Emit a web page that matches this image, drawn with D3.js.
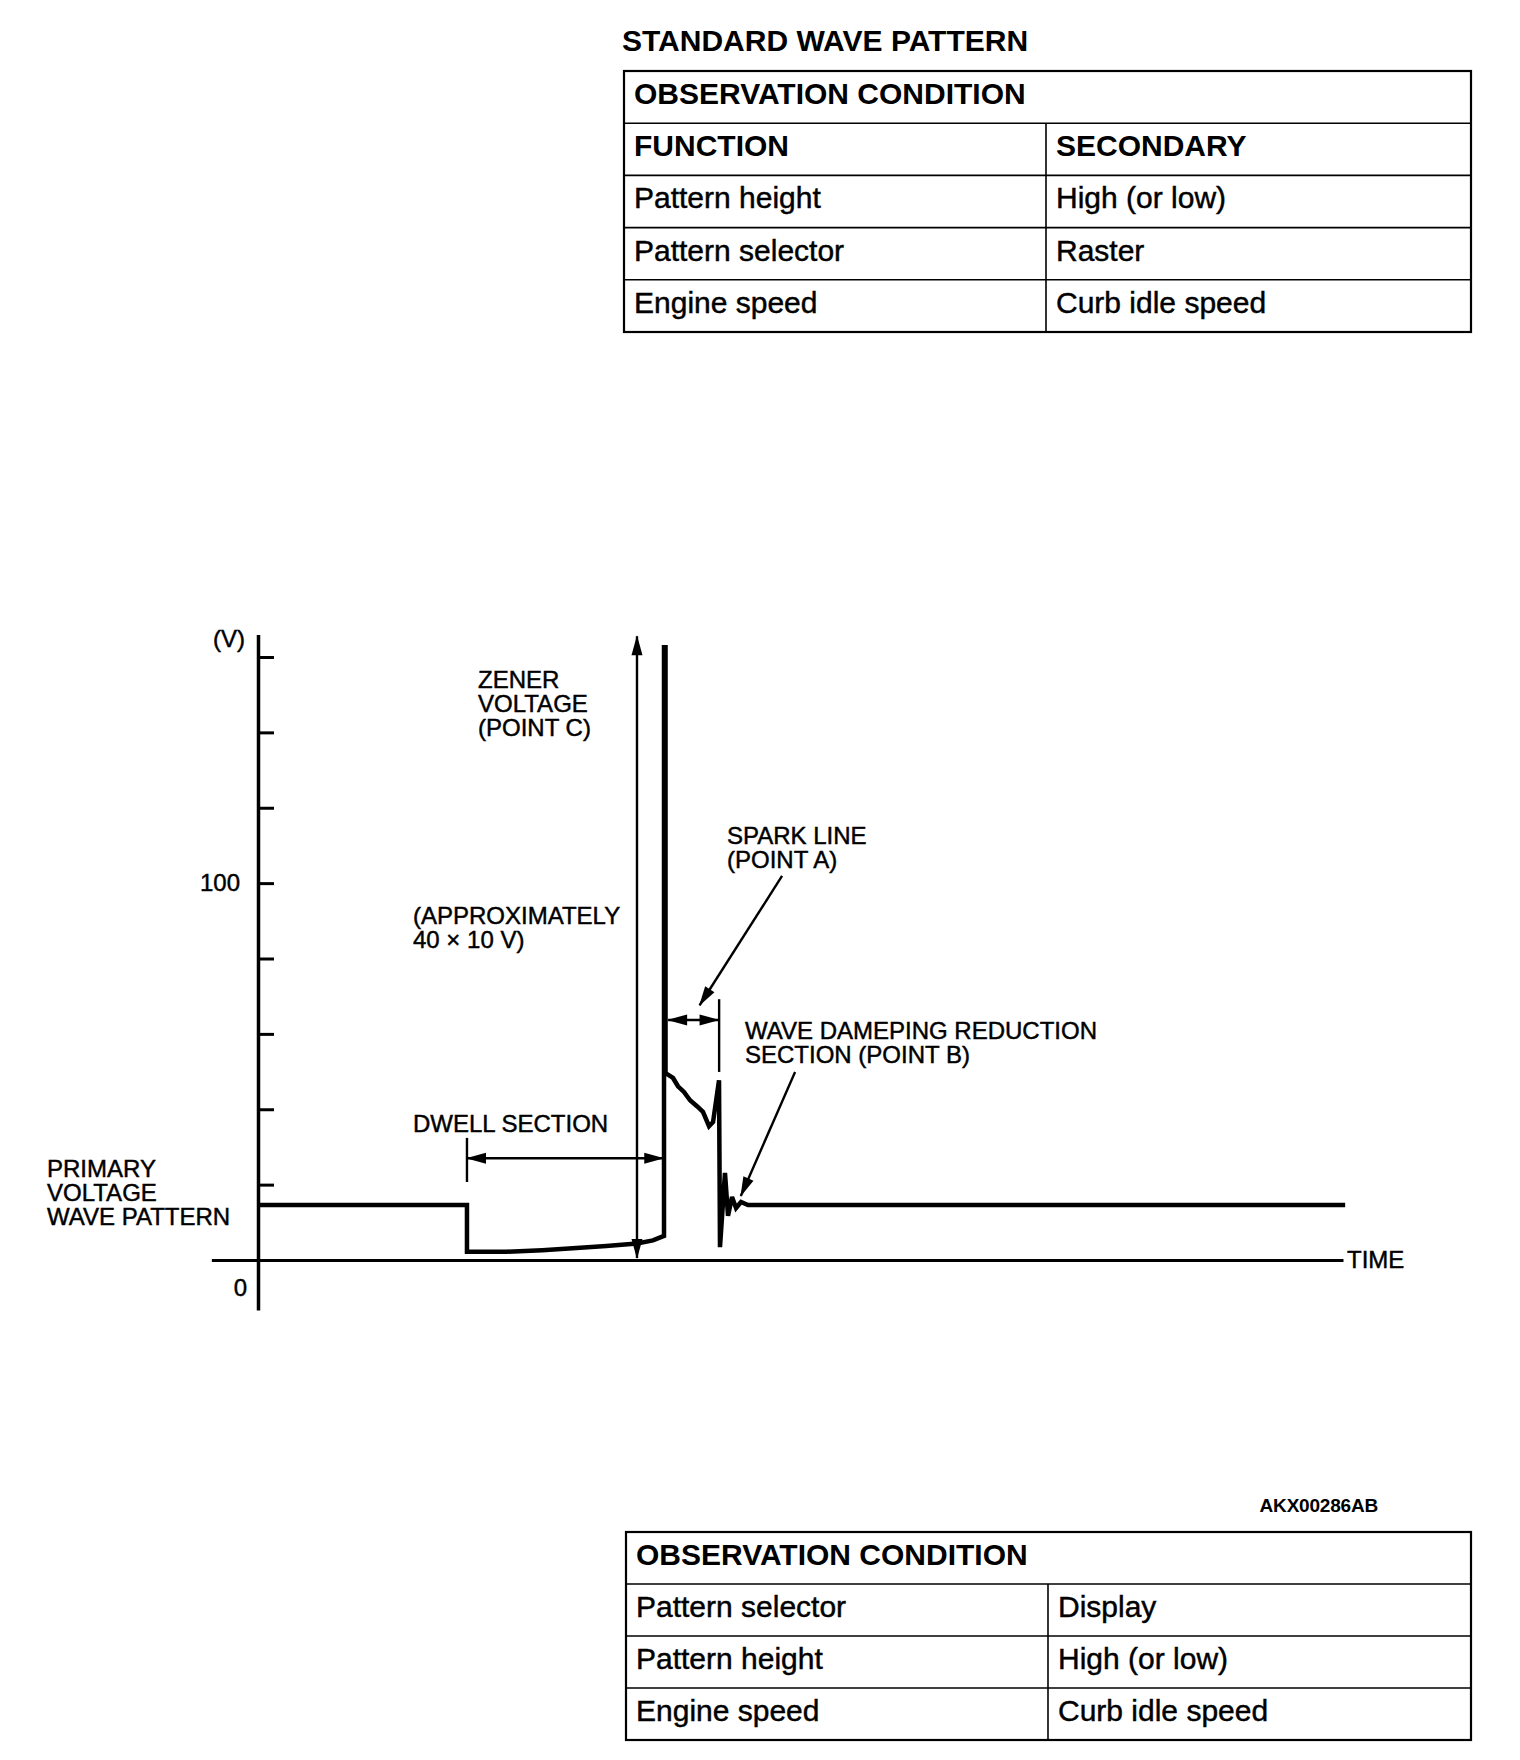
<!DOCTYPE html>
<html>
<head>
<meta charset="utf-8">
<script src="https://cdn.jsdelivr.net/npm/d3@7/dist/d3.min.js"></script>
<style>
  body { margin: 0; background: #fff; }
  svg { display: block; font-family: "Liberation Sans", Arial, Helvetica, sans-serif; }
  .heavy { stroke: #000; stroke-width: 0.45px; }
</style>
</head>
<body>
<svg id="chart" width="1520" height="1760"></svg>
<script>
// primary voltage wave: time (arbitrary units) and volts
var waveTime = [0, 19.26, 19.26, 22.9, 26.2, 29.0, 32.1, 34.93, 36.4, 37.42, 37.42, 37.56, 37.56, 38.25, 38.71, 39.26, 39.82, 40.46, 41.01, 41.57, 41.94, 42.49, 42.58, 43.04, 43.32, 43.69, 44.06, 44.52, 45.16, 100.2];
var waveVolt = [14.6, 14.6, 2.2, 2.2, 2.6, 3.1, 3.7, 4.4, 5.2, 6.4, 162.6, 162.6, 49.6, 48.3, 46.1, 44.6, 42.4, 40.8, 39.3, 35.5, 36.6, 47.7, 3.4, 23.1, 11.7, 16.7, 13.8, 15.4, 14.6, 14.6];

var yTicks = [20, 40, 60, 80, 100, 120, 140, 160];
var yLabelled = [100];

// annotation arrows [t1, v1, t2, v2, heads]  heads: 0 none, 1 end, 2 both
var arrowNames = ["zener", "dwell", "dwellEdge", "sparkSpan", "sparkEdge", "sparkPointer", "dampPointer"];
var arrowT1 = [34.93, 19.26, 19.26, 37.8, 42.5, 48.3, 49.5];
var arrowV1 = [0.5, 27.0, 32.4, 63.7, 69.2, 101.9, 49.9];
var arrowT2 = [34.93, 37.35, 19.26, 42.45, 42.5, 40.7, 44.5];
var arrowV2 = [165.5, 27.0, 20.7, 63.7, 49.9, 67.6, 17.0];
var arrowHeads = [2, 2, 0, 2, 0, 1, 1];

var topTableHeader = "OBSERVATION CONDITION";
var topTableCol1 = ["FUNCTION", "Pattern height", "Pattern selector", "Engine speed"];
var topTableCol2 = ["SECONDARY", "High (or low)", "Raster", "Curb idle speed"];

var bottomTableHeader = "OBSERVATION CONDITION";
var bottomTableCol1 = ["Pattern selector", "Pattern height", "Engine speed"];
var bottomTableCol2 = ["Display", "High (or low)", "Curb idle speed"];

var svg = d3.select("#chart");
svg.append("rect").attr("width", 1520).attr("height", 1760).attr("fill", "#fff");

// title
svg.append("text")
    .attr("x", 622)
    .attr("y", 51)
    .style("font-size", "30px")
    .style("font-weight", "bold")
    .text("STANDARD WAVE PATTERN");

function drawTable(left, top, width, colX, rowH, header, col1, col2, boldFirst) {
    var g = svg.append("g").attr("transform", "translate(" + left + "," + top + ")");
    var nRows = col1.length + 1;
    g.append("rect")
        .attr("width", width)
        .attr("height", rowH * nRows)
        .attr("fill", "none")
        .attr("stroke", "#000")
        .attr("stroke-width", 2.2);
    for (var i = 1; i < nRows; i++) {
        g.append("line")
            .attr("x1", 0).attr("x2", width)
            .attr("y1", i * rowH).attr("y2", i * rowH)
            .attr("stroke", "#000").attr("stroke-width", 1.6);
    }
    g.append("line")
        .attr("x1", colX).attr("x2", colX)
        .attr("y1", rowH).attr("y2", rowH * nRows)
        .attr("stroke", "#000").attr("stroke-width", 1.6);
    g.append("text")
        .attr("x", 10).attr("y", 33)
        .style("font-size", "30px").style("font-weight", "bold")
        .text(header);
    col1.forEach(function (d, i) {
        var bold = boldFirst && i === 0;
        g.append("text")
            .attr("x", 10).attr("y", (i + 1) * rowH + 33)
            .attr("class", bold ? null : "heavy")
            .style("font-size", "30px").style("font-weight", bold ? "bold" : "normal")
            .text(d);
        g.append("text")
            .attr("x", colX + 10).attr("y", (i + 1) * rowH + 33)
            .attr("class", bold ? null : "heavy")
            .style("font-size", "30px").style("font-weight", bold ? "bold" : "normal")
            .text(col2[i]);
    });
}

drawTable(624, 71, 847, 422, 52.2, topTableHeader, topTableCol1, topTableCol2, true);
drawTable(626, 1532, 845, 422, 52, bottomTableHeader, bottomTableCol1, bottomTableCol2, false);

// id code
svg.append("text")
    .attr("x", 1378)
    .attr("y", 1512)
    .attr("text-anchor", "end")
    .style("font-size", "19px")
    .style("font-weight", "bold")
    .style("letter-spacing", "-0.2px")
    .text("AKX00286AB");

// scales
var x = d3.scaleLinear().domain([0, 100]).range([258, 1343]);
var y = d3.scaleLinear().domain([0, 160]).range([1260, 657]);

var defs = svg.append("defs");
defs.append("marker")
    .attr("id", "head")
    .attr("markerUnits", "userSpaceOnUse")
    .attr("viewBox", "-20 -7 22 14")
    .attr("refX", 0).attr("refY", 0)
    .attr("markerWidth", 22).attr("markerHeight", 14)
    .attr("orient", "auto-start-reverse")
    .append("path")
    .attr("d", "M1,0 L-19,-5.5 L-19,5.5 Z")
    .attr("fill", "#000");

// axes
var yAxisScale = y.copy().domain([-13.3, 166]).range([y(-13.3), y(166)]);
var yAxis = d3.axisLeft(yAxisScale)
    .tickValues(yTicks)
    .tickSizeInner(-16)
    .tickSizeOuter(0)
    .tickPadding(18)
    .tickFormat(function (d) { return yLabelled.indexOf(d) >= 0 ? d : ""; });

var gy = svg.append("g")
    .attr("class", "y-axis")
    .attr("transform", "translate(" + x(0) + ",0)")
    .call(yAxis);
gy.select(".domain").attr("stroke-width", 3.5);
gy.selectAll(".tick line").attr("stroke-width", 3);
gy.selectAll(".tick text")
    .attr("class", "heavy")
    .style("font-size", "24px")
    .style("font-family", "Liberation Sans, Arial, sans-serif")
    .attr("fill", "#000");

var xAxisScale = x.copy().domain([-4.3, 100]).range([x(-4.3), x(100)]);
var gx = svg.append("g")
    .attr("class", "x-axis")
    .attr("transform", "translate(0," + y(0) + ")")
    .call(d3.axisBottom(xAxisScale).tickValues([]).tickSizeOuter(0));
gx.select(".domain").attr("stroke-width", 3);

// wave
var wavePoints = waveTime.map(function (t, i) { return [t, waveVolt[i]]; });
svg.append("path")
    .datum(wavePoints)
    .attr("fill", "none")
    .attr("stroke", "#000")
    .attr("stroke-width", 4.5)
    .attr("stroke-linejoin", "miter")
    .attr("stroke-miterlimit", 3)
    .attr("d", d3.line()
        .x(function (d) { return x(d[0]); })
        .y(function (d) { return y(d[1]); }));

// annotation arrows
arrowNames.forEach(function (name, i) {
    var ln = svg.append("line")
        .attr("class", "arrow-" + name)
        .attr("x1", x(arrowT1[i])).attr("y1", y(arrowV1[i]))
        .attr("x2", x(arrowT2[i])).attr("y2", y(arrowV2[i]))
        .attr("stroke", "#000")
        .attr("stroke-width", 2.4);
    if (arrowHeads[i] >= 1) ln.attr("marker-end", "url(#head)");
    if (arrowHeads[i] === 2) ln.attr("marker-start", "url(#head)");
});

// labels
function label(px, py, lines) {
    var t = svg.append("text")
        .attr("class", "heavy")
        .attr("x", px)
        .attr("y", py)
        .style("font-size", "24px");
    lines.forEach(function (s, i) {
        t.append("tspan").attr("x", px).attr("dy", i === 0 ? 0 : 24).text(s);
    });
}

label(47, 1177, ["PRIMARY", "VOLTAGE", "WAVE PATTERN"]);
label(478, 688, ["ZENER", "VOLTAGE", "(POINT C)"]);
label(413, 924, ["(APPROXIMATELY", "40 \u00d7 10 V)"]);
label(413, 1132, ["DWELL SECTION"]);
label(727, 844, ["SPARK LINE", "(POINT A)"]);
label(745, 1039, ["WAVE DAMEPING REDUCTION", "SECTION (POINT B)"]);
label(1347, 1268, ["TIME"]);

svg.append("text")
    .attr("class", "heavy")
    .attr("x", 245).attr("y", 647)
    .attr("text-anchor", "end")
    .style("font-size", "24px")
    .text("(V)");
svg.append("text")
    .attr("class", "heavy")
    .attr("x", 247).attr("y", 1296)
    .attr("text-anchor", "end")
    .style("font-size", "24px")
    .text("0");
</script>
</body>
</html>
